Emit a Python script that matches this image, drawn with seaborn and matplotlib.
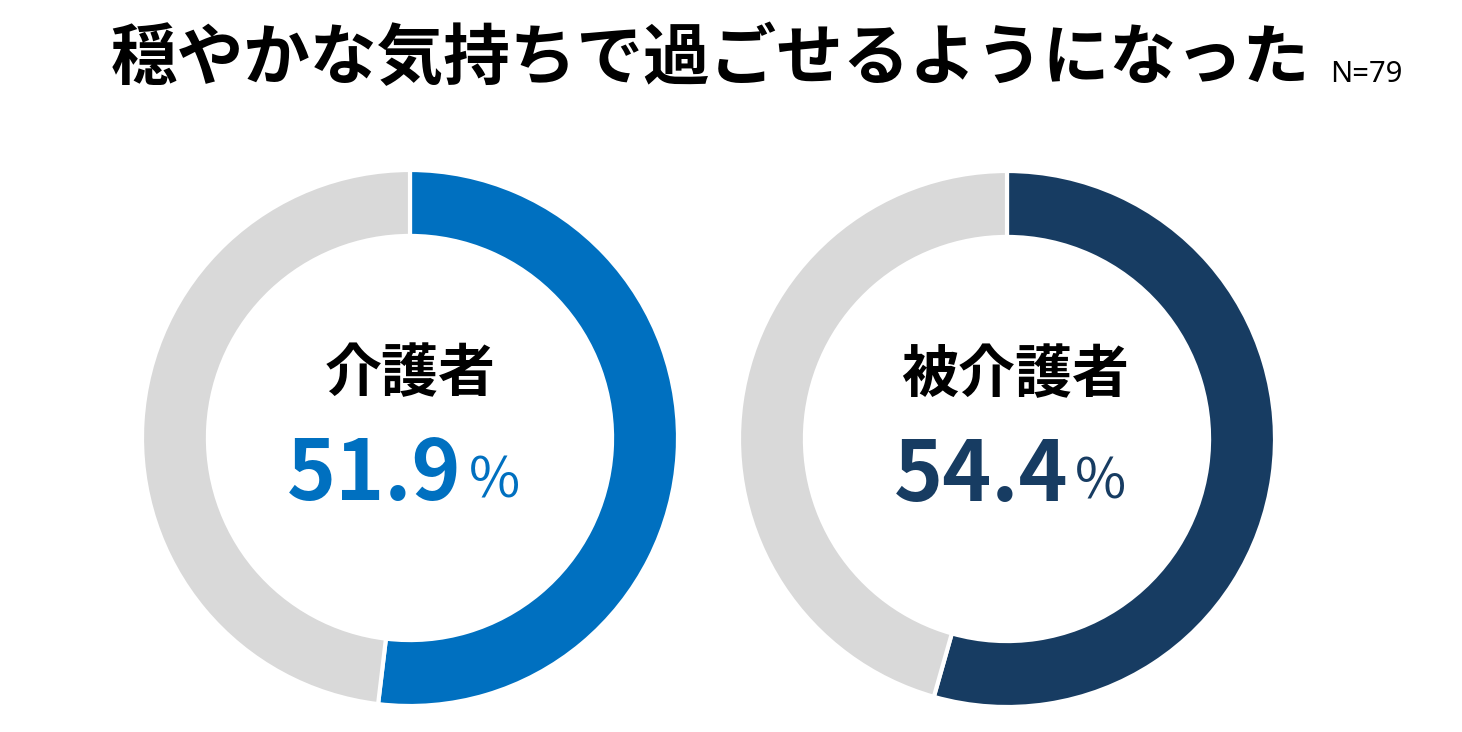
import matplotlib
matplotlib.use('Agg')
import matplotlib.pyplot as plt
import seaborn as sns

# ==================== DATA ====================
title = '穏やかな気持ちで過ごせるようになった'
n_label = 'N=79'
groups = ['介護者', '被介護者']
values = [51.9, 54.4]
colors = ['#0070C0', '#173C62']
rest_color = '#D9D9D9'

# ==================== STYLE ====================
sns.set_theme(style='white')
plt.rcParams['font.family'] = ['Noto Sans CJK JP', 'DejaVu Sans']

W, H = 1462, 732
fig = plt.figure(figsize=(W / 100, H / 100), dpi=100)

# donut centers / radius in pixels, plus small text nudges
centers = [(410, 438), (1007, 439)]
radius = 268
text_dx = [0.0, 0.03]
num_right = [0.194, 0.228]

for (cx, cy), name, val, col, dx, nr in zip(centers, groups, values, colors,
                                            text_dx, num_right):
    ax = fig.add_axes([(cx - radius) / W, (H - cy - radius) / H,
                       2 * radius / W, 2 * radius / H])
    ax.pie([val, 100 - val], colors=[col, rest_color], startangle=90,
           counterclock=False,
           wedgeprops=dict(width=0.246, edgecolor='white', linewidth=3))
    ax.set_xlim(-1, 1)
    ax.set_ylim(-1, 1)
    ax.set_aspect('equal')
    ax.axis('off')

    ax.text(dx, 0.24, name, ha='center', va='center', fontsize=41,
            fontweight='bold', color='black')
    ax.text(nr, -0.232, f'{val:.1f}', ha='right', va='baseline',
            fontsize=60, fontweight='bold', color=col)
    ax.text(nr + 0.025, -0.222, '%', ha='left', va='baseline',
            fontsize=40, color=col)

fig.text(710 / W, 1 - 60 / H, title, ha='center', va='center',
         fontsize=48, fontweight='bold', color='black')
fig.text(1330 / W, 1 - 82 / H, n_label, ha='left', va='baseline',
         fontsize=21, color='black', family=['Noto Sans', 'DejaVu Sans'])

fig.savefig('out.png', dpi=100, facecolor='white')
